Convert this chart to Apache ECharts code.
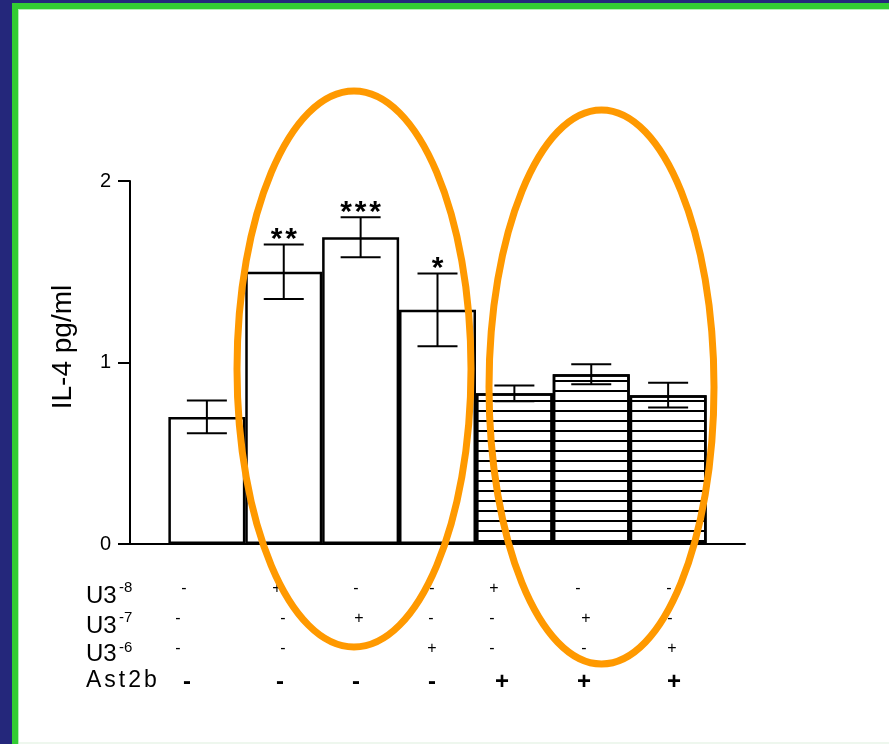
<!DOCTYPE html>
<html><head><meta charset="utf-8">
<script src="https://cdn.jsdelivr.net/npm/echarts@6/dist/echarts.min.js"></script>
<style>html,body{margin:0;padding:0;background:#fff}#c{width:889px;height:744px}</style>
</head><body><div id="c"></div>
<script>
// ---- data ----
const groups = ['G1', 'G2', 'G3', 'G4', 'G5', 'G6', 'G7'];
const means = [0.70, 1.50, 1.69, 1.29, 0.83, 0.935, 0.82];
const errors = [0.09, 0.15, 0.11, 0.20, 0.043, 0.055, 0.068];
const stars = ['', '**', '***', '*', '', '', ''];
const hatched = [false, false, false, false, true, true, true];
const yMin = 0, yMax = 2, yStep = 1;
const yAxisTitle = 'IL-4 pg/ml';
const rowU3m8 = ['-', '+', '-', '-', '+', '-', '-'];
const rowU3m7 = ['-', '-', '+', '-', '-', '+', '-'];
const rowU3m6 = ['-', '-', '-', '+', '-', '-', '+'];
const rowAst2b = ['-', '-', '-', '-', '+', '+', '+'];
const rowNames = [['U3', '-8'], ['U3', '-7'], ['U3', '-6'], ['Ast2b', '']];

// ---- layout (positions only) ----
const rowMarkX = [
  [184, 277, 356, 432, 494, 578, 669],
  [178, 283, 359, 431, 492, 586, 670],
  [178, 283, 356, 432, 492, 584, 672],
  [187, 280, 356, 432, 502, 584, 674]
];
const rowMarkY = [588.5, 618.5, 648.5, 682];
const rowLabelY = [596, 626, 654, 680.5];
const supY = [588, 618, 648];

const FONT = '"Liberation Sans", Arial, sans-serif';
const axisCats = [''].concat(groups, ['']);
const plainData = axisCats.map((c, i) => (i >= 1 && i <= groups.length && !hatched[i - 1]) ? means[i - 1] : '-');
const hatchData = axisCats.map((c, i) => (i >= 1 && i <= groups.length && hatched[i - 1]) ? means[i - 1] : '-');
const errData = groups.map((g, i) => [i + 1, means[i], errors[i]]);

const mctx = document.createElement('canvas').getContext('2d');
function spacedText(str, x, y, font, spacing, z) {
  mctx.font = font;
  const out = [];
  let cx = x;
  for (const ch of str) {
    out.push({type: 'text', z: z, x: cx, y: y,
      style: {text: ch, font: font, fill: '#000', align: 'left', verticalAlign: 'middle'}});
    cx += mctx.measureText(ch).width + spacing;
  }
  return out;
}

const graphics = [];
// frame
const navy = '#24277b', green = '#33cc33';
graphics.push({type: 'rect', z: 100, silent: true, shape: {x: 0, y: 0, width: 889, height: 3}, style: {fill: navy}});
graphics.push({type: 'rect', z: 100, silent: true, shape: {x: 0, y: 0, width: 12, height: 744}, style: {fill: navy}});
graphics.push({type: 'rect', z: 100, silent: true, shape: {x: 12, y: 3, width: 877, height: 6}, style: {fill: green}});
graphics.push({type: 'rect', z: 100, silent: true, shape: {x: 12, y: 3, width: 6, height: 741}, style: {fill: green}});
graphics.push({type: 'rect', z: 100, silent: true, shape: {x: 18, y: 9, width: 1, height: 735}, style: {fill: '#b6eeb6'}});
graphics.push({type: 'rect', z: 100, silent: true, shape: {x: 18, y: 9, width: 871, height: 1}, style: {fill: '#b6eeb6'}});
graphics.push({type: 'rect', z: 100, silent: true, shape: {x: 19, y: 742, width: 870, height: 2}, style: {fill: '#eef7ee'}});
// y axis title
graphics.push({type: 'text', z: 50, x: 63, y: 347, rotation: Math.PI / 2,
  style: {text: yAxisTitle, font: '28px ' + FONT, fill: '#000', align: 'center', verticalAlign: 'middle'}});
// table
const rows = [rowU3m8, rowU3m7, rowU3m6, rowAst2b];
rowNames.forEach((rn, r) => {
  if (r === 3) {
    spacedText(rn[0], 86, rowLabelY[r], '23px ' + FONT, 3, 50).forEach(g => graphics.push(g));
  } else {
    graphics.push({type: 'text', z: 50, x: 86, y: rowLabelY[r],
      style: {text: rn[0], font: '24px ' + FONT, fill: '#000', align: 'left', verticalAlign: 'middle'}});
  }
  if (rn[1]) {
    graphics.push({type: 'text', z: 50, x: 119, y: supY[r],
      style: {text: rn[1], font: '15px ' + FONT, fill: '#000', align: 'left', verticalAlign: 'middle'}});
  }
  rows[r].forEach((m, c) => {
    graphics.push({type: 'text', z: 50, x: rowMarkX[r][c], y: rowMarkY[r],
      style: {text: m, font: (r === 3 ? 'bold 24px ' : '16px ') + FONT, fill: '#000', align: 'center', verticalAlign: 'middle'}});
  });
});
// annotation ellipses
graphics.push({type: 'ellipse', z: 200, silent: true, shape: {cx: 354, cy: 369, rx: 117, ry: 278},
  style: {fill: null, stroke: '#ff9900', lineWidth: 7}});
graphics.push({type: 'ellipse', z: 200, silent: true, shape: {cx: 601.5, cy: 387, rx: 112.5, ry: 277},
  style: {fill: null, stroke: '#ff9900', lineWidth: 7}});

const chart = echarts.init(document.getElementById('c'), null, {renderer: 'canvas'});
chart.setOption({
  backgroundColor: '#fff',
  animation: false,
  grid: {left: 130, right: 144, top: 181, bottom: 200, containLabel: false},
  xAxis: {
    type: 'category', data: axisCats, boundaryGap: false,
    axisLine: {show: true, lineStyle: {color: '#000', width: 2}},
    axisTick: {show: false}, axisLabel: {show: false}, splitLine: {show: false}
  },
  yAxis: {
    type: 'value', min: yMin, max: yMax, interval: yStep,
    axisLine: {show: true, lineStyle: {color: '#000', width: 2}},
    axisTick: {show: true, inside: false, length: 12, lineStyle: {color: '#000', width: 2}},
    axisLabel: {color: '#000', fontSize: 20, fontFamily: FONT, margin: 19},
    splitLine: {show: false}
  },
  series: [
    {
      type: 'bar', data: plainData, barWidth: 77, barGap: '-100%', z: 2,
      itemStyle: {color: '#fff', borderColor: '#000', borderWidth: 2.5}
    },
    {
      type: 'bar', data: hatchData, barWidth: 77, barGap: '-100%', z: 2,
      itemStyle: {
        color: '#fff', borderColor: '#000', borderWidth: 2.5,
        decal: {symbol: 'rect', symbolSize: 1, dashArrayX: [1, 0], dashArrayY: [2, 7.1], color: '#000', rotation: 0}
      }
    },
    {
      type: 'custom', data: errData, z: 5,
      renderItem: function (params, api) {
        const x = api.value(0), m = api.value(1), e = api.value(2);
        const top = api.coord([x, m + e]);
        const bot = api.coord([x, m - e]);
        const cx = top[0], hw = 20;
        const ls = {stroke: '#000', lineWidth: 2};
        const children = [
          {type: 'line', shape: {x1: cx, y1: top[1], x2: cx, y2: bot[1]}, style: ls},
          {type: 'line', shape: {x1: cx - hw, y1: top[1], x2: cx + hw, y2: top[1]}, style: ls},
          {type: 'line', shape: {x1: cx - hw, y1: bot[1], x2: cx + hw, y2: bot[1]}, style: ls}
        ];
        const s = stars[params.dataIndex];
        const n = s.length, step = 14.5;
        for (let k = 0; k < n; k++) {
          children.push({type: 'text', x: cx + (k - (n - 1) / 2) * step, y: top[1] - 5,
            style: {text: '*', font: 'bold 30px ' + FONT, fill: '#000', align: 'center', verticalAlign: 'middle'}});
        }
        return {type: 'group', children: children};
      }
    }
  ],
  graphic: graphics
});
</script>
</body></html>
